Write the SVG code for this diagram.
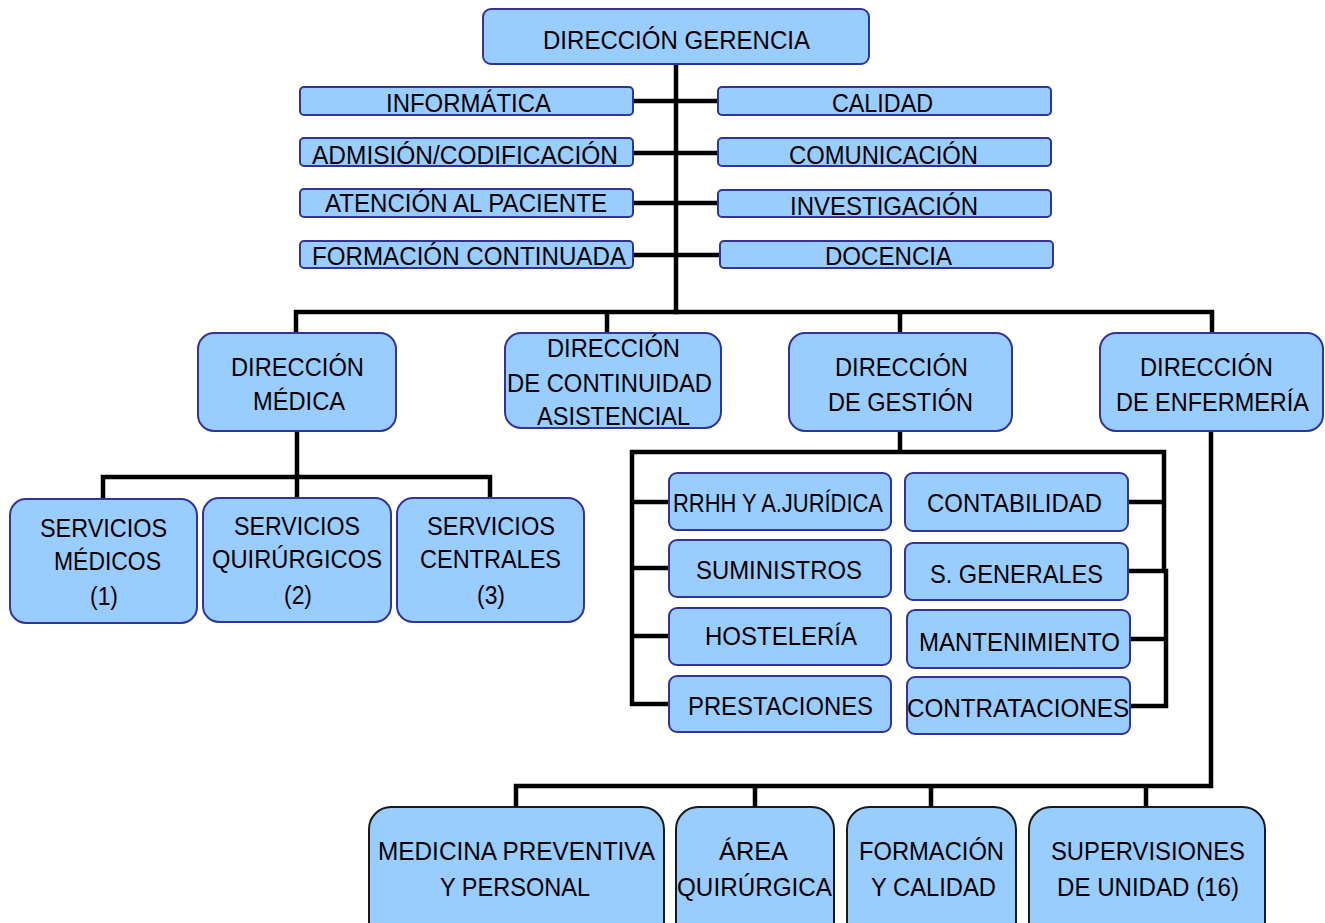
<svg xmlns="http://www.w3.org/2000/svg" width="1325" height="923" viewBox="0 0 1325 923">
<style>
.b{fill:#99CCFF;stroke:#333399;stroke-width:2}
.k{fill:#99CCFF;stroke:#1a1a1a;stroke-width:2}
text{font-family:"Liberation Sans",Arial,sans-serif;font-size:26px;fill:#000;text-anchor:start}
.c{fill:none;stroke:#000;stroke-width:4.5;stroke-linecap:square}
</style>
<rect width="1325" height="923" fill="#fff"/>
<g id="connectors">
<path class="c" d="M676 64V312M634 101H717M634 153H717M634 203H717M634 255H719"/>
<path class="c" d="M296 312H1212M296 312V332M607 312V332M900 312V332M1212 312V332"/>
<path class="c" d="M297 431V477M103 477H490M103 477V498M297 477V497M490 477V497"/>
<path class="c" d="M900 431V452M632 452H1164M632 452V704M632 502H668M632 568H668M632 636H668M632 704H668M1164 452V571M1166 571V706M1129 502H1164M1129 571H1166M1131 639H1166M1131 706H1166"/>
<path class="c" d="M1211 431V786M516 786H1211M516 786V806M755 786V806M931 786V806M1146 786V806"/>
</g>
<g id="gerencia"><rect class="b" x="483" y="9" width="386" height="55" rx="8"/><text x="543" y="49" textLength="267" lengthAdjust="spacingAndGlyphs">DIRECCIÓN GERENCIA</text></g>
<g id="informatica"><rect class="b" x="300" y="87" width="333" height="28" rx="4"/><text x="386" y="112" textLength="165" lengthAdjust="spacingAndGlyphs">INFORMÁTICA</text></g>
<g id="admision"><rect class="b" x="300" y="138" width="333" height="28" rx="4"/><text x="312" y="164" textLength="306" lengthAdjust="spacingAndGlyphs">ADMISIÓN/CODIFICACIÓN</text></g>
<g id="atencion"><rect class="b" x="300" y="189" width="333" height="28" rx="4"/><text x="325" y="212" textLength="282" lengthAdjust="spacingAndGlyphs">ATENCIÓN AL PACIENTE</text></g>
<g id="formacion-continuada"><rect class="b" x="300" y="241" width="333" height="27" rx="4"/><text x="312" y="265" textLength="314" lengthAdjust="spacingAndGlyphs">FORMACIÓN CONTINUADA</text></g>
<g id="calidad"><rect class="b" x="718" y="87" width="333" height="28" rx="4"/><text x="832" y="112" textLength="101" lengthAdjust="spacingAndGlyphs">CALIDAD</text></g>
<g id="comunicacion"><rect class="b" x="718" y="138" width="333" height="28" rx="4"/><text x="789" y="164" textLength="189" lengthAdjust="spacingAndGlyphs">COMUNICACIÓN</text></g>
<g id="investigacion"><rect class="b" x="718" y="190" width="333" height="27" rx="4"/><text x="790" y="215" textLength="188" lengthAdjust="spacingAndGlyphs">INVESTIGACIÓN</text></g>
<g id="docencia"><rect class="b" x="720" y="241" width="333" height="27" rx="4"/><text x="825" y="265" textLength="127" lengthAdjust="spacingAndGlyphs">DOCENCIA</text></g>
<g id="dir-medica"><rect class="b" x="198" y="333" width="198" height="98" rx="16"/><text x="231" y="376" textLength="133" lengthAdjust="spacingAndGlyphs">DIRECCIÓN</text><text x="253" y="410" textLength="92" lengthAdjust="spacingAndGlyphs">MÉDICA</text></g>
<g id="dir-continuidad"><rect class="b" x="505" y="333" width="216" height="95" rx="16"/><text x="547" y="357" textLength="133" lengthAdjust="spacingAndGlyphs">DIRECCIÓN</text><text x="507" y="392" textLength="205" lengthAdjust="spacingAndGlyphs">DE CONTINUIDAD</text><text x="537" y="425" textLength="153" lengthAdjust="spacingAndGlyphs">ASISTENCIAL</text></g>
<g id="dir-gestion"><rect class="b" x="789" y="333" width="223" height="98" rx="16"/><text x="835" y="376" textLength="133" lengthAdjust="spacingAndGlyphs">DIRECCIÓN</text><text x="828" y="411" textLength="145" lengthAdjust="spacingAndGlyphs">DE GESTIÓN</text></g>
<g id="dir-enfermeria"><rect class="b" x="1100" y="333" width="223" height="98" rx="16"/><text x="1140" y="376" textLength="133" lengthAdjust="spacingAndGlyphs">DIRECCIÓN</text><text x="1116" y="411" textLength="193" lengthAdjust="spacingAndGlyphs">DE ENFERMERÍA</text></g>
<g id="serv-medicos"><rect class="b" x="10" y="499" width="187" height="124" rx="16"/><text x="40" y="537" textLength="127" lengthAdjust="spacingAndGlyphs">SERVICIOS</text><text x="54" y="570" textLength="107" lengthAdjust="spacingAndGlyphs">MÉDICOS</text><text x="90" y="605" textLength="28" lengthAdjust="spacingAndGlyphs">(1)</text></g>
<g id="serv-quirurgicos"><rect class="b" x="203" y="498" width="188" height="124" rx="16"/><text x="234" y="535" textLength="126" lengthAdjust="spacingAndGlyphs">SERVICIOS</text><text x="212" y="568" textLength="170" lengthAdjust="spacingAndGlyphs">QUIRÚRGICOS</text><text x="284" y="604" textLength="28" lengthAdjust="spacingAndGlyphs">(2)</text></g>
<g id="serv-centrales"><rect class="b" x="397" y="498" width="187" height="124" rx="16"/><text x="427" y="535" textLength="128" lengthAdjust="spacingAndGlyphs">SERVICIOS</text><text x="420" y="568" textLength="141" lengthAdjust="spacingAndGlyphs">CENTRALES</text><text x="477" y="604" textLength="28" lengthAdjust="spacingAndGlyphs">(3)</text></g>
<g id="rrhh"><rect class="b" x="669" y="473" width="222" height="57" rx="8"/><text x="673" y="512" textLength="210" lengthAdjust="spacingAndGlyphs">RRHH Y A.JURÍDICA</text></g>
<g id="suministros"><rect class="b" x="669" y="540" width="222" height="57" rx="8"/><text x="696" y="579" textLength="166" lengthAdjust="spacingAndGlyphs">SUMINISTROS</text></g>
<g id="hosteleria"><rect class="b" x="669" y="608" width="222" height="57" rx="8"/><text x="705" y="645" textLength="152" lengthAdjust="spacingAndGlyphs">HOSTELERÍA</text></g>
<g id="prestaciones"><rect class="b" x="669" y="676" width="222" height="56" rx="8"/><text x="688" y="715" textLength="185" lengthAdjust="spacingAndGlyphs">PRESTACIONES</text></g>
<g id="contabilidad"><rect class="b" x="905" y="473" width="223" height="58" rx="8"/><text x="927" y="512" textLength="175" lengthAdjust="spacingAndGlyphs">CONTABILIDAD</text></g>
<g id="s-generales"><rect class="b" x="905" y="543" width="223" height="57" rx="8"/><text x="930" y="583" textLength="173" lengthAdjust="spacingAndGlyphs">S. GENERALES</text></g>
<g id="mantenimiento"><rect class="b" x="907" y="610" width="223" height="58" rx="8"/><text x="919" y="651" textLength="201" lengthAdjust="spacingAndGlyphs">MANTENIMIENTO</text></g>
<g id="contrataciones"><rect class="b" x="907" y="677" width="223" height="57" rx="8"/><text x="907" y="717" textLength="222" lengthAdjust="spacingAndGlyphs">CONTRATACIONES</text></g>
<g id="medicina-preventiva"><rect class="k" x="369" y="807" width="295" height="140" rx="22"/><text x="378" y="860" textLength="277" lengthAdjust="spacingAndGlyphs">MEDICINA PREVENTIVA</text><text x="440" y="896" textLength="150" lengthAdjust="spacingAndGlyphs">Y PERSONAL</text></g>
<g id="area-quirurgica"><rect class="k" x="676" y="807" width="158" height="140" rx="22"/><text x="719" y="860" textLength="69" lengthAdjust="spacingAndGlyphs">ÁREA</text><text x="677" y="896" textLength="155" lengthAdjust="spacingAndGlyphs">QUIRÚRGICA</text></g>
<g id="formacion-calidad"><rect class="k" x="847" y="807" width="169" height="140" rx="22"/><text x="859" y="860" textLength="145" lengthAdjust="spacingAndGlyphs">FORMACIÓN</text><text x="871" y="896" textLength="125" lengthAdjust="spacingAndGlyphs">Y CALIDAD</text></g>
<g id="supervisiones"><rect class="k" x="1029" y="807" width="236" height="140" rx="22"/><text x="1051" y="860" textLength="194" lengthAdjust="spacingAndGlyphs">SUPERVISIONES</text><text x="1057" y="896" textLength="182" lengthAdjust="spacingAndGlyphs">DE UNIDAD (16)</text></g>
</svg>
